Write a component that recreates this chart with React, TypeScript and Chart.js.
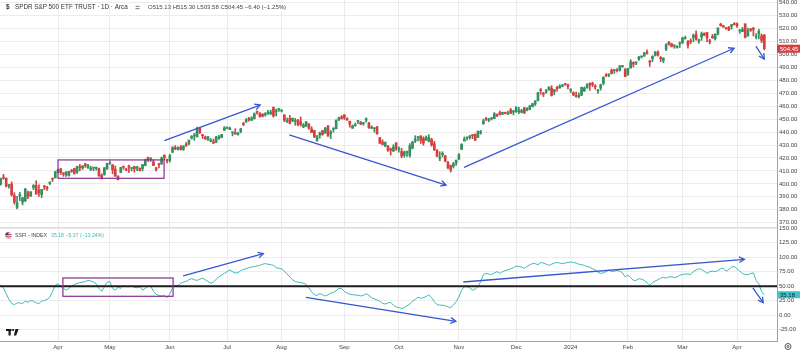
import React, { useEffect, useRef } from 'react';
import { Chart, registerables } from 'chart.js';

Chart.register(...registerables);

// ---------------- data ----------------
const tradingMonths: [string, number[]][] = [
  ['2023-03', [3, 6, 7, 8, 9, 10, 13, 14, 15, 16, 17, 20, 21, 22, 23, 24, 27, 28, 29, 30, 31]],
  ['2023-04', [3, 4, 5, 6, 10, 11, 12, 13, 14, 17, 18, 19, 20, 21, 24, 25, 26, 27, 28]],
  ['2023-05', [1, 2, 3, 4, 5, 8, 9, 10, 11, 12, 15, 16, 17, 18, 19, 22, 23, 24, 25, 26, 30, 31]],
  ['2023-06', [1, 2, 5, 6, 7, 8, 9, 12, 13, 14, 15, 16, 20, 21, 22, 23, 26, 27, 28, 29, 30]],
  ['2023-07', [3, 5, 6, 7, 10, 11, 12, 13, 14, 17, 18, 19, 20, 21, 24, 25, 26, 27, 28, 31]],
  ['2023-08', [1, 2, 3, 4, 7, 8, 9, 10, 11, 14, 15, 16, 17, 18, 21, 22, 23, 24, 25, 28, 29, 30, 31]],
  ['2023-09', [1, 5, 6, 7, 8, 11, 12, 13, 14, 15, 18, 19, 20, 21, 22, 25, 26, 27, 28, 29]],
  ['2023-10', [2, 3, 4, 5, 6, 9, 10, 11, 12, 13, 16, 17, 18, 19, 20, 23, 24, 25, 26, 27, 30, 31]],
  ['2023-11', [1, 2, 3, 6, 7, 8, 9, 10, 13, 14, 15, 16, 17, 20, 21, 22, 24, 27, 28, 29, 30]],
  ['2023-12', [1, 4, 5, 6, 7, 8, 11, 12, 13, 14, 15, 18, 19, 20, 21, 22, 26, 27, 28, 29]],
  ['2024-01', [2, 3, 4, 5, 8, 9, 10, 11, 12, 16, 17, 18, 19, 22, 23, 24, 25, 26, 29, 30, 31]],
  ['2024-02', [1, 2, 5, 6, 7, 8, 9, 12, 13, 14, 15, 16, 20, 21, 22, 23, 26, 27, 28, 29]],
  ['2024-03', [1, 4, 5, 6, 7, 8, 11, 12, 13, 14, 15, 18, 19, 20, 21, 22, 25, 26, 27, 28]],
  ['2024-04', [1, 2, 3, 4, 5, 8, 9, 10, 11, 12, 15]],
];

const opens = [
  399.71, 405.05, 404.42, 398.39, 399.74, 390.99, 381.81, 390.50, 385.89, 386.82, 393.22, 390.80, 397.24, 398.73, 395.09, 391.84, 398.12, 397.11, 400.35, 404.05, 404.66,
  408.85, 411.62, 407.91, 406.77, 406.61, 410.26, 411.87, 409.18, 412.81, 412.37, 415.58, 412.22, 411.21, 412.19, 411.99, 411.73, 406.72, 407.00, 411.49,
  415.47, 414.77, 411.36, 406.00, 408.91, 412.97, 411.13, 413.88, 411.95, 413.42, 412.22, 411.96, 411.82, 414.34, 420.18, 418.64, 417.06, 412.42, 414.74, 415.33, 422.03, 418.28,
  418.09, 424.50, 428.28, 426.67, 428.44, 426.62, 429.96, 430.92, 435.32, 437.01, 436.33, 443.02, 437.45, 436.16, 433.95, 432.93, 432.62, 432.35, 435.05, 435.96, 441.44,
  442.92, 441.91, 439.42, 438.63, 438.18, 440.45, 446.39, 447.90, 450.48, 449.13, 450.50, 455.88, 454.17, 453.96, 453.37, 453.92, 454.47, 459.02, 455.88, 457.41,
  456.27, 453.25, 448.04, 450.72, 448.71, 448.08, 449.43, 448.19, 443.97, 444.70, 446.27, 442.46, 441.16, 433.37, 437.55, 441.18, 439.25, 444.69, 438.68, 442.24, 442.65, 449.51, 451.65,
  453.17, 450.73, 448.40, 443.11, 444.90, 448.24, 447.41, 446.43, 449.07, 447.14, 443.05, 442.68, 444.01, 435.70, 432.45, 429.17, 429.09, 427.09, 425.48, 431.67,
  426.62, 425.06, 422.07, 424.36, 421.97, 427.58, 432.94, 435.64, 436.95, 435.21, 433.82, 432.81, 434.19, 430.95, 425.98, 419.61, 422.65, 421.89, 416.45, 414.19, 413.56, 416.18,
  419.20, 426.58, 433.14, 435.47, 435.69, 437.55, 438.43, 435.98, 439.23, 446.32, 450.11, 449.22, 450.24, 450.53, 453.18, 454.98, 453.75, 454.65, 454.08, 457.15, 455.48,
  455.77, 455.60, 455.26, 458.81, 456.91, 457.46, 459.69, 461.63, 464.49, 472.50, 469.49, 470.98, 472.53, 473.96, 471.33, 473.86, 474.07, 475.44, 476.88, 476.49,
  472.16, 470.43, 468.30, 467.49, 468.43, 471.87, 474.16, 477.59, 477.84, 475.26, 471.82, 474.01, 477.65, 484.01, 484.01, 487.81, 487.58, 487.59, 487.73, 490.56, 488.62,
  484.63, 489.65, 493.70, 493.52, 496.29, 498.10, 498.84, 501.17, 494.53, 496.79, 499.29, 501.70, 497.72, 495.42, 504.01, 509.27, 508.30, 506.70, 505.33, 508.07,
  508.98, 512.03, 510.24, 510.55, 513.14, 515.46, 510.48, 513.45, 516.36, 516.97, 510.21, 514.00, 512.15, 515.77, 523.39, 522.11, 519.80, 521.23, 521.71, 523.21,
  523.83, 518.24, 517.72, 523.52, 514.46, 519.15, 520.50, 513.48, 515.68, 514.37, 515.13,
];

const highs = [
  404.45, 407.45, 404.67, 399.71, 401.48, 393.16, 390.39, 393.45, 389.49, 396.47, 394.40, 394.17, 399.41, 402.49, 399.29, 395.84, 398.92, 398.05, 401.57, 404.33, 409.70,
  411.37, 411.92, 408.70, 409.48, 409.69, 411.18, 412.17, 413.84, 415.09, 413.96, 415.72, 415.08, 413.70, 412.68, 413.07, 412.18, 407.84, 412.69, 415.94,
  417.62, 414.82, 413.87, 406.30, 412.92, 413.72, 412.10, 414.54, 412.43, 413.64, 413.43, 412.43, 415.09, 419.07, 420.72, 420.39, 418.72, 412.82, 416.16, 420.77, 422.58, 419.22,
  422.92, 428.74, 429.62, 428.58, 429.62, 429.60, 431.99, 433.88, 437.33, 439.06, 443.90, 443.61, 438.37, 436.99, 436.62, 435.06, 434.61, 436.81, 437.44, 438.28, 444.30,
  444.08, 443.89, 440.10, 442.64, 439.84, 442.97, 447.48, 450.38, 451.36, 451.93, 454.87, 456.43, 455.10, 454.17, 455.04, 456.74, 456.99, 459.44, 457.78, 458.16,
  457.25, 453.52, 450.79, 452.89, 450.87, 450.70, 449.72, 451.70, 446.70, 448.11, 446.64, 444.18, 441.43, 437.57, 440.11, 441.18, 443.67, 445.22, 441.30, 443.40, 449.45, 451.67, 452.83,
  453.67, 451.06, 448.51, 445.55, 447.11, 448.77, 448.20, 447.59, 451.08, 447.48, 444.97, 443.29, 444.44, 435.97, 434.10, 432.27, 429.82, 427.67, 430.25, 431.85,
  428.60, 427.37, 425.43, 425.37, 431.13, 432.88, 437.22, 436.58, 437.34, 436.45, 437.14, 438.14, 435.18, 432.82, 426.54, 424.82, 424.82, 421.92, 417.33, 414.60, 416.68, 418.53,
  423.50, 430.92, 436.29, 436.15, 437.59, 438.09, 438.47, 440.93, 441.33, 450.06, 451.38, 450.56, 451.42, 455.13, 454.13, 456.38, 455.50, 455.49, 456.27, 458.32, 456.76,
  459.65, 459.12, 457.59, 458.84, 458.90, 460.75, 462.17, 464.20, 470.76, 473.73, 470.70, 472.98, 474.92, 475.90, 472.98, 475.38, 476.58, 476.66, 477.55, 477.03,
  473.67, 471.19, 470.96, 470.44, 474.75, 474.93, 477.45, 478.12, 478.60, 476.61, 472.79, 477.06, 482.72, 485.22, 485.11, 488.77, 488.31, 489.12, 491.42, 491.62, 489.08,
  489.23, 496.05, 494.38, 494.32, 498.53, 498.71, 501.65, 503.50, 495.58, 499.07, 502.20, 502.87, 498.41, 497.37, 508.49, 510.13, 508.75, 507.16, 506.86, 509.74,
  513.29, 514.20, 510.70, 512.07, 515.89, 518.22, 511.88, 517.38, 516.73, 517.13, 511.70, 515.48, 516.00, 520.62, 524.11, 522.61, 520.95, 521.58, 523.21, 524.61,
  524.38, 518.98, 520.95, 523.87, 520.44, 520.18, 520.75, 516.16, 519.48, 515.82, 515.30,
];

const lows = [
  399.03, 403.49, 397.63, 396.59, 390.53, 384.32, 380.65, 387.05, 383.71, 386.29, 388.55, 390.07, 395.58, 392.07, 390.35, 389.40, 395.56, 394.86, 399.48, 401.75, 404.55,
  408.44, 407.24, 405.88, 405.68, 405.97, 408.94, 407.44, 407.99, 410.06, 411.08, 412.78, 412.16, 410.27, 410.17, 410.60, 406.02, 403.78, 406.74, 411.43,
  415.27, 407.82, 405.77, 403.00, 408.56, 411.29, 410.23, 408.87, 409.97, 409.07, 410.23, 410.08, 410.06, 413.89, 417.34, 417.35, 414.06, 409.88, 412.41, 415.25, 418.74, 416.22,
  416.79, 423.95, 426.37, 425.99, 426.11, 425.82, 428.87, 430.17, 434.63, 433.59, 436.23, 438.97, 435.03, 434.33, 433.60, 432.47, 431.19, 431.88, 434.41, 435.54, 441.11,
  442.63, 441.90, 437.06, 438.30, 437.59, 439.44, 444.91, 447.45, 448.49, 449.08, 450.05, 453.89, 451.44, 451.70, 452.30, 453.87, 453.38, 451.55, 452.49, 456.05,
  455.49, 448.09, 447.37, 446.27, 447.99, 445.27, 444.70, 444.72, 443.35, 444.38, 442.30, 439.53, 435.75, 433.01, 435.32, 437.57, 439.10, 436.86, 435.00, 439.97, 442.46, 448.78, 450.16,
  449.68, 449.17, 443.81, 442.75, 444.53, 446.47, 445.80, 445.29, 447.71, 442.92, 442.56, 439.94, 438.43, 431.23, 429.99, 428.72, 425.02, 422.29, 424.87, 425.91,
  424.46, 420.18, 420.56, 421.17, 420.60, 427.01, 431.94, 433.18, 431.23, 429.88, 433.57, 432.45, 429.09, 425.73, 421.08, 417.80, 420.74, 417.02, 411.60, 409.21, 412.22, 414.21,
  418.65, 426.56, 433.01, 433.68, 434.51, 434.87, 433.40, 435.78, 438.42, 446.09, 448.80, 448.12, 449.29, 450.52, 451.96, 453.15, 453.73, 454.08, 453.50, 454.20, 453.34,
  455.16, 454.34, 454.87, 454.31, 456.29, 457.21, 459.47, 460.60, 464.12, 469.25, 467.43, 469.89, 472.45, 467.82, 468.84, 471.70, 473.99, 474.89, 476.26, 473.30,
  470.49, 468.17, 467.05, 466.43, 468.30, 471.35, 473.87, 472.26, 475.23, 473.06, 469.87, 472.42, 476.54, 482.78, 482.89, 484.88, 485.39, 486.54, 487.17, 490.11, 482.86,
  483.80, 489.30, 490.23, 492.03, 495.36, 497.26, 498.49, 500.24, 490.72, 494.40, 498.80, 498.75, 494.45, 493.56, 503.02, 507.10, 505.86, 504.75, 504.96, 505.35,
  508.56, 512.00, 504.91, 508.42, 509.81, 511.13, 508.50, 510.86, 514.48, 509.83, 508.13, 512.44, 511.12, 515.08, 521.91, 520.97, 519.61, 518.40, 519.49, 522.78,
  520.97, 516.32, 517.67, 512.76, 514.01, 517.89, 514.35, 512.09, 512.08, 509.08, 503.58,
];

const closes = [
  404.19, 404.47, 398.27, 398.92, 391.56, 385.91, 385.36, 391.73, 389.28, 396.11, 389.99, 393.74, 398.91, 392.11, 393.17, 395.75, 397.52, 396.49, 401.35, 403.70, 409.39,
  410.95, 408.67, 407.60, 409.19, 409.61, 409.72, 408.05, 413.47, 412.46, 413.94, 414.21, 414.14, 411.88, 412.20, 412.63, 406.08, 404.36, 412.41, 415.93,
  415.51, 410.84, 406.12, 403.35, 412.63, 412.87, 410.65, 412.85, 412.13, 411.59, 413.35, 410.08, 414.96, 418.76, 418.46, 418.77, 414.09, 411.09, 414.65, 420.02, 420.18, 417.85,
  421.82, 427.92, 427.10, 428.03, 426.55, 429.13, 429.90, 433.80, 436.66, 437.18, 442.60, 439.46, 437.18, 434.94, 436.51, 433.21, 431.44, 436.17, 436.39, 438.11, 443.28,
  443.79, 443.13, 439.66, 438.55, 439.66, 442.46, 446.02, 449.56, 449.28, 450.84, 454.19, 455.20, 452.18, 452.18, 454.20, 455.44, 455.51, 452.49, 456.92, 457.79,
  456.48, 449.13, 448.84, 446.81, 450.71, 448.75, 445.75, 445.91, 445.65, 448.11, 442.89, 439.64, 436.29, 436.50, 439.34, 438.15, 443.03, 436.89, 439.97, 442.76, 449.16, 451.01, 450.35,
  451.19, 449.24, 446.22, 444.85, 445.52, 448.45, 445.99, 446.51, 450.36, 443.37, 443.63, 442.71, 438.64, 431.39, 430.42, 432.23, 425.88, 426.05, 428.52, 427.48,
  427.31, 421.59, 424.66, 424.50, 429.54, 432.29, 434.54, 436.32, 433.66, 431.50, 436.04, 436.02, 430.21, 426.43, 421.19, 420.46, 423.63, 417.55, 412.55, 410.68, 415.59, 418.20,
  422.66, 430.76, 434.69, 435.69, 436.93, 437.25, 433.84, 440.61, 440.19, 448.73, 449.68, 450.23, 450.79, 454.26, 452.64, 453.63, 455.30, 454.48, 454.93, 454.61, 456.40,
  459.10, 456.69, 456.60, 454.76, 458.23, 460.20, 461.99, 464.10, 470.50, 472.01, 469.33, 471.97, 474.84, 468.26, 472.70, 473.65, 475.65, 476.51, 476.69, 475.31,
  472.65, 468.79, 467.28, 467.92, 474.60, 473.88, 476.56, 476.35, 476.68, 474.93, 472.29, 476.49, 482.43, 483.45, 484.86, 485.39, 488.03, 487.41, 491.27, 490.89, 482.88,
  489.20, 494.35, 492.55, 493.98, 498.10, 498.32, 501.20, 500.98, 494.08, 498.57, 502.01, 499.51, 496.76, 497.21, 507.50, 507.85, 505.99, 506.93, 506.26, 508.08,
  512.85, 512.30, 507.18, 509.75, 514.81, 511.72, 511.28, 515.97, 514.95, 513.01, 509.83, 512.86, 515.71, 520.48, 522.20, 521.21, 519.77, 518.81, 523.17, 523.07,
  522.16, 518.84, 519.41, 513.07, 518.43, 518.72, 519.32, 514.12, 518.00, 510.85, 504.45,
];

const ssfi = [
  51.5, 47, 37, 27, 20, 18, 21, 21, 20, 24, 22, 25, 24, 21, 20, 24, 25, 27, 31, 41, 51.5,
  54, 50, 46, 43, 46, 50, 53, 55, 56, 57, 58, 60, 59, 57, 54, 46, 41, 49, 57, 58,
  46, 43, 48, 46, 51, 49, 49, 50, 48, 47, 49, 43, 46, 50, 50, 41, 36, 34, 33, 34,
  30, 36, 47, 51, 51, 55, 57, 58, 61, 63, 61, 60, 62, 64, 61, 58, 55, 57, 62, 66,
  69, 72, 75, 78, 75, 73, 73, 77, 79, 80, 82, 83, 84, 85, 86, 88, 89, 88, 87, 86,
  82, 81, 80, 76, 71, 66, 61, 58, 57, 56, 55, 53, 47, 40, 35, 34, 37, 35, 33, 35,
  38, 39, 42, 46, 46, 41, 38, 36, 35, 35, 34, 33, 34, 37, 34, 30, 28, 26, 24, 20,
  19, 21, 22, 17, 14, 13, 11, 13, 16, 19, 24, 27, 31, 29, 30, 32, 35, 30, 23, 18,
  17, 17, 16, 14, 13, 17, 23, 31, 43, 49, 49, 47, 43, 45, 49, 58, 70, 72, 71, 70,
  73, 75, 72, 75, 77, 78, 80, 82, 85, 84, 83, 81, 84, 87, 89, 89, 87, 91, 90, 88,
  86, 88, 90, 91, 90, 89, 90, 91, 92, 91, 90, 88, 87, 86, 84, 83, 80, 78, 74, 72,
  73, 75, 78, 75, 76, 77, 76, 73, 66, 69, 65, 60, 60, 63, 62, 60, 56, 51.5, 56, 59,
  61, 64, 65, 64, 66, 66, 65, 66, 69, 70, 71, 71, 70, 75, 78, 80, 79, 76, 72, 75,
  76, 75, 77, 80, 81, 76, 79, 83, 84, 80, 76, 72, 70, 70, 72, 73, 60, 54, 40.55, 35.18,
];

const priceTicks = [370, 380, 390, 400, 410, 420, 430, 440, 450, 460, 470, 480, 490, 500, 510, 520, 530, 540];
const ssfiTicks = [-25, 0, 25, 50, 75, 100, 125, 150];
const monthNames = ['Jan', 'Feb', 'Mar', 'Apr', 'May', 'Jun', 'Jul', 'Aug', 'Sep', 'Oct', 'Nov', 'Dec'];
const symbolTitle = 'SPDR S&P 500 ETF TRUST · 1D · Arca';
const indicatorTitle = 'SSFI - INDEX';
const ssfiLevel = 50;

// drawings, in (bar index, value) coordinates
const priceBoxes = [{ from: 21, to: 59.9, low: 404.3, high: 418.5 }];
const ssfiBoxes = [{ from: 22.8, to: 63.2, low: 32.4, high: 64.1 }];
const priceArrows = [
  [60.0, 433.4, 95.1, 460.9],
  [105.8, 437.8, 163.3, 399.1],
  [169.9, 412.8, 268.9, 504.8],
  [276.9, 506.5, 280.0, 496.5],
];
const ssfiArrows = [
  [66.9, 67.6, 96.3, 106.2],
  [111.9, 30.7, 166.9, -10.9],
  [169.6, 57.2, 272.7, 96.5],
  [275.8, 46.8, 279.6, 21.3],
];

// ---------------- styles ----------------
const UP = '#34905f';
const DOWN = '#d4403c';
const SSFI_COLOR = '#3dbab5';
const GRID = '#ececec';
const AXIS = '#a3a3a3';
const TEXT = '#444444';
const BOX = '#8a2f8f';
const ARROW = '#3558cf';
const FONT = 'Liberation Sans, Arial, sans-serif';

const fmtSigned = (v: number) => (v < 0 ? '−' : '+') + Math.abs(v).toFixed(2);

function drawArrow(ctx: CanvasRenderingContext2D, x0: number, y0: number, x1: number, y1: number) {
  ctx.beginPath();
  ctx.moveTo(x0, y0);
  ctx.lineTo(x1, y1);
  ctx.stroke();
  const a = Math.atan2(y1 - y0, x1 - x0);
  const h = 6;
  ctx.beginPath();
  ctx.moveTo(x1 - h * Math.cos(a - 0.5), y1 - h * Math.sin(a - 0.5));
  ctx.lineTo(x1, y1);
  ctx.lineTo(x1 - h * Math.cos(a + 0.5), y1 - h * Math.sin(a + 0.5));
  ctx.stroke();
}

const overlay = {
  id: 'overlay',
  afterDraw(chart: any) {
    const ctx: CanvasRenderingContext2D = chart.ctx;
    const xs = chart.scales.x;
    const ps = chart.scales.price;
    const is = chart.scales.ind;
    const area = chart.chartArea;
    const last = closes.length - 1;
    ctx.save();

    // pane divider
    ctx.strokeStyle = '#dadada';
    ctx.lineWidth = 1;
    const dy = Math.round(ps.bottom) + 0.5;
    ctx.beginPath();
    ctx.moveTo(area.left, dy);
    ctx.lineTo(area.right, dy);
    ctx.stroke();

    // SSFI level line
    const ly = is.getPixelForValue(ssfiLevel);
    ctx.strokeStyle = '#1c1c1c';
    ctx.lineWidth = 2;
    ctx.beginPath();
    ctx.moveTo(area.left, ly);
    ctx.lineTo(area.right, ly);
    ctx.stroke();

    // boxes
    ctx.strokeStyle = BOX;
    ctx.lineWidth = 1.2;
    const rect = (b: any, sc: any) => {
      const x0 = xs.getPixelForValue(b.from), x1 = xs.getPixelForValue(b.to);
      const y0 = sc.getPixelForValue(b.high), y1 = sc.getPixelForValue(b.low);
      ctx.strokeRect(x0, y0, x1 - x0, y1 - y0);
    };
    priceBoxes.forEach(b => rect(b, ps));
    ssfiBoxes.forEach(b => rect(b, is));

    // arrows
    ctx.strokeStyle = ARROW;
    ctx.lineWidth = 1.3;
    priceArrows.forEach(([a, b, c, d]) =>
      drawArrow(ctx, xs.getPixelForValue(a), ps.getPixelForValue(b), xs.getPixelForValue(c), ps.getPixelForValue(d)));
    ssfiArrows.forEach(([a, b, c, d]) =>
      drawArrow(ctx, xs.getPixelForValue(a), is.getPixelForValue(b), xs.getPixelForValue(c), is.getPixelForValue(d)));

    // last value labels on the axes
    ctx.font = `6px ${FONT}`;
    ctx.textBaseline = 'middle';
    ctx.textAlign = 'left';
    const py = ps.getPixelForValue(closes[last]);
    ctx.fillStyle = DOWN;
    ctx.fillRect(ps.left, py - 4, ps.width, 8);
    ctx.fillStyle = '#ffffff';
    ctx.fillText(closes[last].toFixed(2), ps.left + 3, py + 0.5);
    const sy = is.getPixelForValue(ssfi[last]);
    ctx.fillStyle = '#3ec6cc';
    ctx.fillRect(is.left, sy - 3.5, is.width, 7);
    ctx.fillStyle = '#10202a';
    ctx.fillText(ssfi[last].toFixed(2), is.left + 3, sy + 0.5);

    // header (price pane)
    ctx.font = `bold 6.5px ${FONT}`;
    ctx.fillStyle = '#333';
    ctx.fillText('$', 6, 7.5);
    ctx.font = `6.3px ${FONT}`;
    ctx.fillStyle = '#333';
    ctx.fillText(symbolTitle, 15, 7.5);
    ctx.fillStyle = '#777';
    ctx.fillRect(135.5, 5.8, 4, 1);
    ctx.fillRect(135.5, 8.2, 4, 1);
    const chg = closes[last] - closes[last - 1];
    const pct = (chg / closes[last - 1]) * 100;
    const ohlc = `O${opens[last].toFixed(2)} H${highs[last].toFixed(2)} L${lows[last].toFixed(2)} C${closes[last].toFixed(2)} ${fmtSigned(chg)} (${fmtSigned(pct)}%)`;
    ctx.font = `6px ${FONT}`;
    ctx.fillStyle = '#444';
    ctx.fillText(ohlc, 148, 7.5);

    // header (indicator pane)
    const hy = is.top + 8.5;
    ctx.save();
    ctx.beginPath();
    ctx.arc(8.5, hy, 3.3, 0, Math.PI * 2);
    ctx.clip();
    ctx.fillStyle = '#ffffff';
    ctx.fillRect(4, hy - 4, 9, 8);
    ctx.fillStyle = '#d2323c';
    for (let s = 0; s < 4; s++) ctx.fillRect(4, hy - 3.3 + s * 1.8, 9, 0.9);
    ctx.fillStyle = '#2f4a9c';
    ctx.fillRect(4, hy - 4, 4.5, 3.8);
    ctx.restore();
    ctx.font = `5.2px ${FONT}`;
    ctx.fillStyle = '#444';
    ctx.fillText(indicatorTitle, 15, hy);
    const tw = ctx.measureText(indicatorTitle).width;
    const schg = ssfi[last] - ssfi[last - 1];
    const spct = (schg / ssfi[last - 1]) * 100;
    ctx.fillStyle = SSFI_COLOR;
    ctx.fillText(`${ssfi[last].toFixed(2)} ${fmtSigned(schg)} (${fmtSigned(spct)}%)`, 15 + tw + 4, hy);

    // TradingView logo
    ctx.fillStyle = '#131722';
    const by = is.bottom - 12;
    ctx.fillRect(6, by, 5.5, 2);
    ctx.fillRect(8.5, by, 2.2, 6.5);
    ctx.beginPath();
    ctx.arc(13.2, by + 1, 1.1, 0, Math.PI * 2);
    ctx.fill();
    ctx.beginPath();
    ctx.moveTo(15.5, by);
    ctx.lineTo(18.6, by);
    ctx.lineTo(16.2, by + 6.5);
    ctx.lineTo(13.9, by + 6.5);
    ctx.closePath();
    ctx.fill();

    // settings gear
    ctx.strokeStyle = '#555';
    ctx.lineWidth = 1;
    ctx.beginPath();
    ctx.arc(788, xs.top + 5.5, 3, 0, Math.PI * 2);
    ctx.stroke();
    ctx.beginPath();
    ctx.arc(788, xs.top + 5.5, 1, 0, Math.PI * 2);
    ctx.stroke();

    ctx.restore();
  },
};

export default function App() {
  const ref = useRef<HTMLCanvasElement>(null);

  useEffect(() => {
    document.body.style.margin = '0';
    const idx = closes.map((_, i) => i);
    const colors = idx.map(i => (closes[i] >= opens[i] ? UP : DOWN));

    const tickIdx: number[] = [];
    const tickLab: Record<number, string> = {};
    let cum = 0;
    tradingMonths.forEach(([ym, days], m) => {
      if (m > 0) {
        const [y, mo] = ym.split('-');
        tickIdx.push(cum);
        tickLab[cum] = mo === '01' ? y : monthNames[Number(mo) - 1];
      }
      cum += days.length;
    });

    const axisFont = { family: FONT, size: 6 };

    const chart = new Chart(ref.current as HTMLCanvasElement, {
      type: 'bar',
      data: {
        datasets: [
          {
            type: 'bar',
            label: 'wick',
            data: idx.map(i => ({ x: i, y: [lows[i], highs[i]] })) as any,
            backgroundColor: colors,
            barThickness: 1,
            grouped: false,
            yAxisID: 'price',
            order: 2,
          } as any,
          {
            type: 'bar',
            label: 'body',
            data: idx.map(i => ({ x: i, y: [opens[i], closes[i]] })) as any,
            backgroundColor: colors,
            barThickness: 2,
            minBarLength: 1,
            grouped: false,
            yAxisID: 'price',
            order: 1,
          } as any,
          {
            type: 'line',
            label: 'SSFI',
            data: idx.map(i => ({ x: i, y: ssfi[i] })) as any,
            borderColor: SSFI_COLOR,
            borderWidth: 1,
            pointRadius: 0,
            tension: 0,
            yAxisID: 'ind',
            order: 0,
          } as any,
        ],
      },
      options: {
        animation: false,
        responsive: false,
        maintainAspectRatio: false,
        devicePixelRatio: 1,
        layout: { padding: 0 },
        plugins: { legend: { display: false }, tooltip: { enabled: false } },
        scales: {
          x: {
            type: 'linear',
            position: 'bottom',
            min: -0.27,
            max: 284.66,
            bounds: 'data',
            offset: false,
            grid: { color: GRID, drawTicks: false, offset: false },
            border: { color: AXIS },
            ticks: {
              autoSkip: false,
              maxRotation: 0,
              minRotation: 0,
              padding: 3,
              color: TEXT,
              font: axisFont,
              callback: (v: any) => tickLab[v] ?? '',
            },
            afterBuildTicks: (s: any) => {
              s.ticks = tickIdx.map(v => ({ value: v }));
            },
            afterFit: (s: any) => {
              s.height = 11;
              s.paddingLeft = 0;
              s.paddingRight = 0;
            },
          },
          price: {
            type: 'linear',
            position: 'right',
            stack: 'panes',
            stackWeight: 227,
            min: 366.67,
            max: 542.09,
            bounds: 'data',
            grid: { color: GRID, drawTicks: false },
            border: { color: AXIS },
            ticks: {
              autoSkip: false,
              padding: 2,
              color: TEXT,
              font: axisFont,
              callback: (v: any) => Number(v).toFixed(2),
            },
            afterBuildTicks: (s: any) => {
              s.ticks = priceTicks.map(v => ({ value: v }));
            },
            afterFit: (s: any) => {
              s.width = 23;
              s.paddingTop = 0;
              s.paddingBottom = 0;
            },
          },
          ind: {
            type: 'linear',
            position: 'right',
            stack: 'panes',
            stackWeight: 114,
            min: -45,
            max: 152.4,
            bounds: 'data',
            grid: { color: GRID, drawTicks: false },
            border: { color: AXIS },
            ticks: {
              autoSkip: false,
              padding: 2,
              color: TEXT,
              font: axisFont,
              callback: (v: any) => Number(v).toFixed(2),
            },
            afterBuildTicks: (s: any) => {
              s.ticks = ssfiTicks.map(v => ({ value: v }));
            },
            afterFit: (s: any) => {
              s.width = 23;
              s.paddingTop = 0;
              s.paddingBottom = 0;
            },
          },
        } as any,
      },
      plugins: [overlay as any],
    });

    return () => chart.destroy();
  }, []);

  return (
    <div style={{ width: 800, height: 352, position: 'relative', background: '#ffffff' }}>
      <canvas ref={ref} width={800} height={352} style={{ display: 'block' }} />
    </div>
  );
}
